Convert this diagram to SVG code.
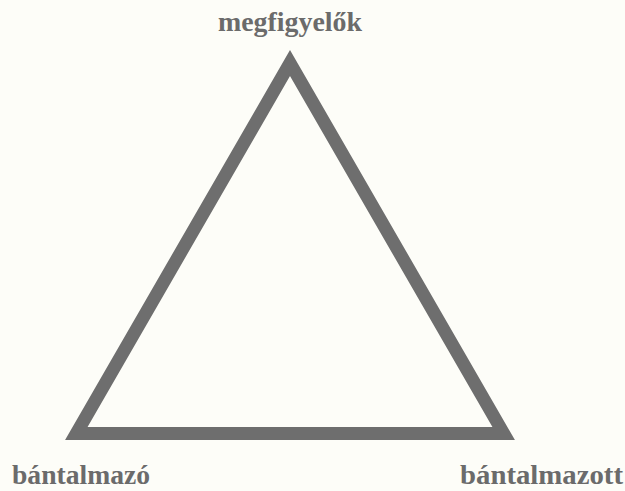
<svg xmlns="http://www.w3.org/2000/svg" width="625" height="491" viewBox="0 0 625 491">
<style>
.lbl{font-family:"Liberation Serif","DejaVu Serif",serif;font-weight:900;font-size:27px;fill:#6b6b6b}
.tri{fill:none;stroke:#6e6e6e;stroke-width:13;stroke-linejoin:miter}
</style>
<rect width="625" height="491" fill="#fdfdf8"/>
<g id="connectors">
<polygon class="tri" points="290,63 76.3,433.5 503.7,433.5"/>
</g>
<g id="node-megfigyelok"><text class="lbl" x="290" y="31" text-anchor="middle" textLength="144" lengthAdjust="spacingAndGlyphs">megfigyelők</text></g>
<g id="node-bantalmazo"><text class="lbl" x="12" y="484" textLength="138" lengthAdjust="spacingAndGlyphs">bántalmazó</text></g>
<g id="node-bantalmazott"><text class="lbl" x="460" y="484" textLength="163" lengthAdjust="spacingAndGlyphs">bántalmazott</text></g>
</svg>
